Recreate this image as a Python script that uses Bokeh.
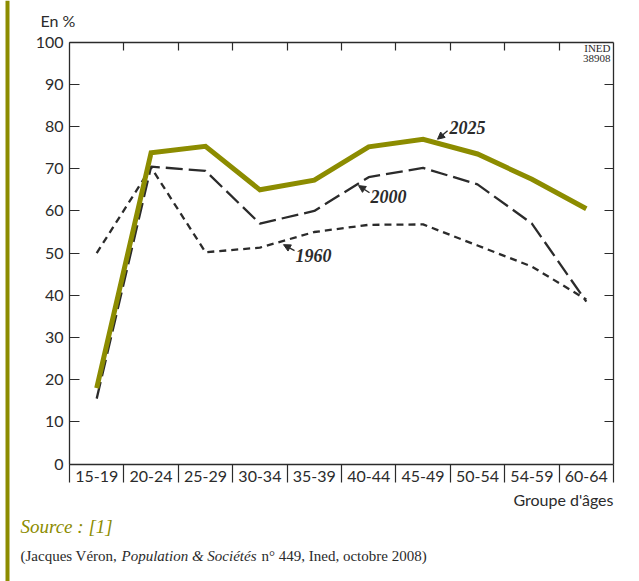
from bokeh.plotting import figure
from bokeh.models import (Range1d, FixedTicker, LinearAxis, Label, Arrow, NormalHead,
                          BoxAnnotation, ColumnDataSource, CustomLabelingPolicy)
from bokeh.embed import file_html
from bokeh.resources import INLINE

# ---- data ----
age_groups = ["15-19", "20-24", "25-29", "30-34", "35-39", "40-44", "45-49", "50-54", "54-59", "60-64"]
y1960 = [50.0, 70.3, 50.2, 51.3, 55.0, 56.7, 56.8, 51.8, 46.8, 39.0]
y2000 = [15.5, 70.5, 69.5, 57.0, 60.0, 68.0, 70.2, 66.3, 57.0, 38.5]
y2025 = [18.0, 73.8, 75.3, 65.0, 67.3, 75.2, 77.0, 73.5, 67.5, 60.5]
y_ticks = [0, 10, 20, 30, 40, 50, 60, 70, 80, 90, 100]

OLIVE = "#8c8c00"
DARK = "#2b2b2b"
SANS = "Lato"
SERIF = "Liberation Serif"

WIDTH, HEIGHT = 639, 581
# chart box in page pixels
BOX_L, BOX_R, BOX_T, BOX_B = 69.0, 613.0, 41.7, 463.5
N = len(age_groups)
sx = (BOX_R - BOX_L) / N          # px per category
sy = (BOX_B - BOX_T) / 100.0      # px per percent


def X(px):
    return (px - BOX_L) / sx


def Y(py):
    return (BOX_B - py) / sy


NO_LABELS = "for (const i of indices) { indices.unset(i) }\nreturn indices"

xc = [i + 0.5 for i in range(N)]
src = ColumnDataSource(dict(x=xc, y1960=y1960, y2000=y2000, y2025=y2025))

p = figure(width=WIDTH, height=HEIGHT, output_backend="svg", toolbar_location=None,
           x_range=Range1d(X(0), X(WIDTH)), y_range=Range1d(Y(HEIGHT), Y(0)),
           min_border=0, x_axis_location=None, y_axis_location=None)
p.xgrid.visible = False
p.ygrid.visible = False
p.outline_line_color = None
p.background_fill_color = "white"
p.border_fill_color = "white"

# left axis
la = LinearAxis(ticker=FixedTicker(ticks=y_ticks, minor_ticks=[]), fixed_location=0, bounds=(0, 100))
la.axis_line_color = DARK
la.axis_line_width = 1.3
la.major_tick_in = 10
la.major_tick_out = 0
la.major_tick_line_color = DARK
la.major_tick_line_width = 1.2
la.major_label_standoff = 6
la.major_label_text_font = SANS
la.major_label_text_font_size = "16px"
la.major_label_text_color = DARK
p.add_layout(la, "left")

# right axis
ra = LinearAxis(ticker=FixedTicker(ticks=y_ticks[1:-1], minor_ticks=[]), fixed_location=N, bounds=(0, 100))
ra.axis_line_color = DARK
ra.axis_line_width = 1.3
ra.major_tick_in = 9
ra.major_tick_out = 0
ra.major_tick_line_color = DARK
ra.major_tick_line_width = 1.2
ra.major_label_policy = CustomLabelingPolicy(code=NO_LABELS)
p.add_layout(ra, "right")

# top axis
ta = LinearAxis(ticker=FixedTicker(ticks=list(range(1, N)), minor_ticks=[]), fixed_location=100, bounds=(0, N))
ta.axis_line_color = DARK
ta.axis_line_width = 1.3
ta.major_tick_in = 8
ta.major_tick_out = 0
ta.major_tick_line_color = DARK
ta.major_tick_line_width = 1.2
ta.major_label_policy = CustomLabelingPolicy(code=NO_LABELS)
p.add_layout(ta, "above")

# bottom axis: separators at category boundaries
bs = LinearAxis(ticker=FixedTicker(ticks=list(range(0, N + 1)), minor_ticks=[]), fixed_location=0, bounds=(0, N))
bs.axis_line_color = DARK
bs.axis_line_width = 1.3
bs.major_tick_in = 0
bs.major_tick_out = 18
bs.major_tick_line_color = DARK
bs.major_tick_line_width = 1.2
bs.major_label_policy = CustomLabelingPolicy(code=NO_LABELS)
p.add_layout(bs, "below")

# bottom axis: category labels at centres
ba = LinearAxis(ticker=FixedTicker(ticks=xc, minor_ticks=[]), fixed_location=0, bounds=(0, N))
ba.major_label_overrides = {x: g for x, g in zip(xc, age_groups)}
ba.axis_line_color = None
ba.major_tick_line_color = None
ba.major_tick_in = 0
ba.major_tick_out = 0
ba.major_label_standoff = 7
ba.major_label_text_font = SANS
ba.major_label_text_font_size = "16px"
ba.major_label_text_color = DARK
p.add_layout(ba, "below")

# series
p.line("x", "y1960", source=src, line_color=DARK, line_width=2.3, line_dash="7 5")
p.line("x", "y2000", source=src, line_color=DARK, line_width=2.3, line_dash="17 6")
p.line("x", "y2025", source=src, line_color=OLIVE, line_width=5, line_join="miter")

for txt, lx, ly, xs, ys, xe, ye in [
    ("2025", 6.985, 79.7, 6.95, 79.0, 6.765, 77.0),
    ("2000", 5.533, 63.4, 5.515, 64.3, 5.313, 66.0),
    ("1960", 4.154, 49.4, 4.136, 50.6, 3.934, 52.0),
]:
    p.add_layout(Label(x=lx, y=ly, text=txt, text_font=SERIF, text_font_style="bold italic",
                       text_font_size="18px", text_color=DARK, text_baseline="middle"))
    p.add_layout(Arrow(x_start=xs, y_start=ys, x_end=xe, y_end=ye, line_color=DARK, line_width=1.3,
                       end=NormalHead(size=7, fill_color=DARK, line_color=DARK, line_width=1)))

p.add_layout(Label(x=X(610), y=Y(47), text="INED", text_font="Liberation Sans Narrow",
                   text_font_size="11px", text_color=DARK, text_baseline="middle", text_align="right"))
p.add_layout(Label(x=X(610), y=Y(58), text="38908", text_font="Liberation Sans Narrow",
                   text_font_size="11px", text_color=DARK, text_baseline="middle", text_align="right"))

# texts around the chart
p.add_layout(Label(x=X(40), y=Y(20), text="En %", text_font=SANS, text_font_size="16px",
                   text_color=DARK, text_baseline="middle"))
p.add_layout(Label(x=X(613), y=Y(499), text="Groupe d'âges", text_font=SANS, text_font_size="16px",
                   text_color=DARK, text_baseline="middle", text_align="right"))
p.add_layout(Label(x=X(20), y=Y(526), text="Source : [1]", text_font=SERIF, text_font_style="italic",
                   text_font_size="19px", text_color=OLIVE, text_baseline="middle"))
p.add_layout(Label(x=X(20), y=Y(555), text="(Jacques Véron, ", text_font=SERIF,
                   text_font_size="15px", text_color=DARK, text_baseline="middle"))
p.add_layout(Label(x=X(121), y=Y(555), text="Population & Sociétés", text_font=SERIF,
                   text_font_style="italic", text_font_size="15px", text_color=DARK, text_baseline="middle"))
p.add_layout(Label(x=X(261), y=Y(555), text="n° 449, Ined, octobre 2008)", text_font=SERIF,
                   text_font_size="15px", text_color=DARK, text_baseline="middle"))

# olive side bar
p.add_layout(BoxAnnotation(left=X(5), right=X(9), bottom=Y(HEIGHT), top=Y(0), fill_color=OLIVE,
                           fill_alpha=1, line_color=None))

open("out.html", "w").write(file_html(p, INLINE))
